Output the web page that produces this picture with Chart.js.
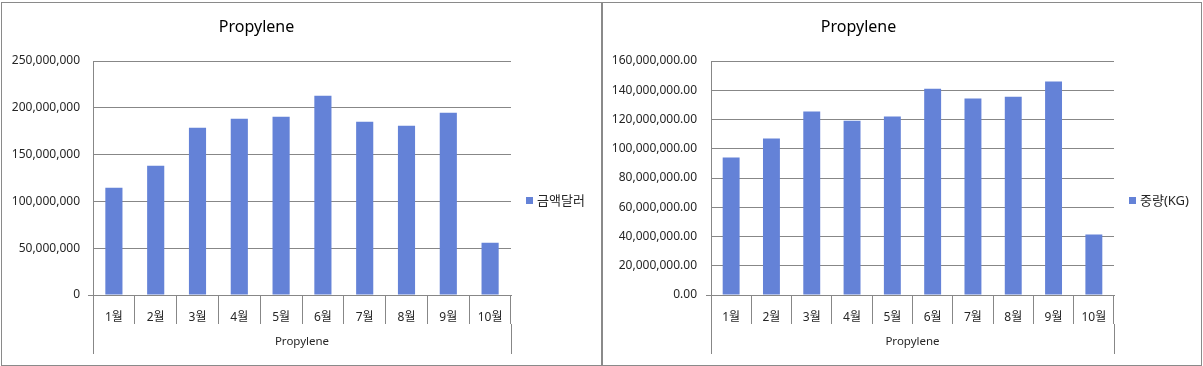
<!DOCTYPE html>
<html>
<head>
<meta charset="utf-8">
<script src="https://cdn.jsdelivr.net/npm/chart.js@4.4.1/dist/chart.umd.min.js"></script>
<style>
  html, body { margin: 0; padding: 0; background: #fff; }
  body { width: 1203px; height: 366px; position: relative; overflow: hidden; font-family: 'Noto Sans', 'Noto Sans CJK KR', sans-serif; }
  .panel { position: absolute; box-sizing: border-box; border: 1px solid #8a8a8a; }
  canvas { position: absolute; }
  .legend { position: absolute; font-size: 13px; color: #262626; line-height: 16px; white-space: nowrap; }
  .legend .sw { display: inline-block; width: 7px; height: 7px; background: #6482d7; margin-right: 4px; vertical-align: 1px; }
</style>
</head>
<body>
<div class="panel" style="left:1px;top:2px;width:601px;height:364px;"></div>
<div class="panel" style="left:602px;top:2px;width:600px;height:364px;"></div>
<canvas id="c1" width="599" height="362" style="left:2px;top:3px;"></canvas>
<canvas id="c2" width="598" height="362" style="left:603px;top:3px;"></canvas>
<div class="legend" style="left:526px;top:192px;"><span class="sw"></span>금액달러</div>
<div class="legend" style="left:1129px;top:192px;"><span class="sw"></span>중량(KG)</div>
<script>
const categories = ['1월', '2월', '3월', '4월', '5월', '6월', '7월', '8월', '9월', '10월'];
const groupLabel = ['Propylene'];
const amountUSD = [114600000, 138100000, 178700000, 188400000, 190500000, 212900000, 185100000, 180900000, 194800000, 55900000];
const weightKG = [94000000, 107000000, 125400000, 119200000, 122000000, 141100000, 134300000, 135600000, 145900000, 41400000];
const amountAxis = { min: 0, max: 250000000, step: 50000000 };
const weightAxis = { min: 0, max: 160000000, step: 20000000 };

const BAR = '#6482d7';
const GRID = '#878787';
const TXT = '#262626';
const FONT = "'Noto Sans', 'Noto Sans CJK KR', sans-serif";

function makeChart(id, label, data, axis, fmt, yWidth, yPad, rightPad, barPct) {
  return new Chart(document.getElementById(id), {
    type: 'bar',
    data: {
      labels: categories,
      datasets: [{ label: label, data: data, backgroundColor: BAR, borderWidth: 0, barPercentage: barPct, categoryPercentage: 1 }]
    },
    options: {
      responsive: false,
      animation: false,
      devicePixelRatio: 1,
      layout: { padding: { left: 0, top: 0, right: rightPad, bottom: 11 } },
      plugins: {
        legend: { display: false },
        tooltip: { enabled: false },
        title: {
          display: true, text: 'Propylene', color: '#000',
          font: { family: FONT, size: 16, weight: 'normal' },
          padding: { top: 15, bottom: 23.8 }
        }
      },
      scales: {
        x: {
          type: 'category', position: 'bottom', weight: 0, offset: true,
          grid: { offset: true, drawOnChartArea: false, drawTicks: true, tickLength: 29, color: GRID, tickColor: GRID },
          border: { display: true, color: GRID },
          ticks: { color: TXT, font: { family: FONT, size: 12 }, padding: -14, maxRotation: 0, autoSkip: false },
          afterFit: s => { s.height = 29; }
        },
        x2: {
          type: 'category', position: 'bottom', weight: 1, labels: groupLabel, offset: true,
          grid: { offset: true, drawOnChartArea: false, drawTicks: true, tickLength: 30, color: GRID, tickColor: GRID },
          border: { display: false },
          ticks: { color: TXT, font: { family: FONT, size: 11.5 }, padding: -19.5, maxRotation: 0 },
          afterFit: s => { s.height = 30; }
        },
        y: {
          min: axis.min, max: axis.max,
          grid: {
            color: GRID, drawTicks: true, tickLength: 5,
            tickColor: ctx => (ctx.tick && ctx.tick.value === 0) ? GRID : 'rgba(0,0,0,0)'
          },
          border: { display: true, color: GRID },
          ticks: { stepSize: axis.step, color: TXT, font: { family: FONT, size: 12 }, padding: yPad, callback: fmt },
          afterFit: s => { s.width = yWidth; }
        }
      }
    }
  });
}

makeChart('c1', '금액달러', amountUSD, amountAxis,
  v => Number(v).toLocaleString('en-US', { maximumFractionDigits: 0 }), 91, 8, 90, 0.41);
makeChart('c2', '중량(KG)', weightKG, weightAxis,
  v => Number(v).toLocaleString('en-US', { minimumFractionDigits: 2, maximumFractionDigits: 2 }), 108, 9, 87, 0.42);
</script>
</body>
</html>
